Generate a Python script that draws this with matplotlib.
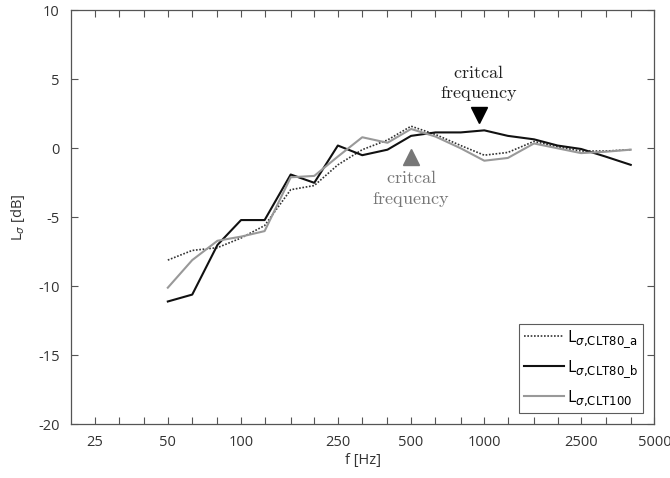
import matplotlib.pyplot as plt
import numpy as np

# third-octave band centre frequencies [Hz]
freqs = [50, 63, 80, 100, 125, 160, 200, 250, 315, 400, 500, 630, 800, 1000,
         1250, 1600, 2000, 2500, 3150, 4000]

clt80_a = [-8.1, -7.4, -7.2, -6.5, -5.6, -3.0, -2.7, -1.2, -0.1, 0.6, 1.6, 1.0,
           0.2, -0.5, -0.3, 0.5, 0.1, -0.2, -0.2, -0.1]
clt80_b = [-11.1, -10.6, -7.0, -5.2, -5.2, -1.9, -2.5, 0.2, -0.5, -0.1, 0.9, 1.15,
           1.15, 1.3, 0.9, 0.65, 0.2, -0.05, -0.6, -1.2]
clt100 = [-10.1, -8.1, -6.7, -6.4, -6.0, -2.1, -2.0, -0.6, 0.8, 0.4, 1.4, 0.85,
          0.0, -0.9, -0.7, 0.35, 0.0, -0.35, -0.25, -0.1]

# critical frequencies (marker position)
fc_80 = (950, 2.4)
fc_100 = (500, -0.65)

band_ticks = [25, 31.5, 40, 50, 63, 80, 100, 125, 160, 200, 250, 315, 400, 500,
              630, 800, 1000, 1250, 1600, 2000, 2500, 3150, 4000, 5000]
labelled = [25, 50, 100, 250, 500, 1000, 2500, 5000]

plt.rcParams['font.family'] = ['Open Sans', 'DejaVu Sans']
plt.rcParams['axes.unicode_minus'] = False
axc = '#555555'

fig = plt.figure(figsize=(6.7, 4.78), dpi=100)
ax = fig.add_axes([0.106, 0.1123, 0.8706, 0.8662])

ax.plot(freqs, clt80_a, color='#333333', ls=(0, (1, 1)), lw=1.2,
        label=r'L$_{\sigma{,}\mathrm{CLT80\_a}}$')
ax.plot(freqs, clt80_b, color='#111111', lw=1.5,
        label=r'L$_{\sigma{,}\mathrm{CLT80\_b}}$')
ax.plot(freqs, clt100, color='#999999', lw=1.5,
        label=r'L$_{\sigma{,}\mathrm{CLT100}}$')

ax.plot(*fc_80, marker='v', color='black', ms=11, ls='none')
ax.plot(*fc_100, marker='^', color='#777777', ms=11, ls='none')
ax.text(fc_80[0], fc_80[1] + 0.85, '$\\mathrm{critcal}$\n$\\mathrm{frequency}$',
        ha='center', va='bottom', fontsize=13, color='#222222',
        math_fontfamily='cm', linespacing=1.2)
ax.text(fc_100[0], fc_100[1] - 0.85, '$\\mathrm{critcal}$\n$\\mathrm{frequency}$',
        ha='center', va='top', fontsize=13, color='#777777',
        math_fontfamily='cm', linespacing=1.2)

ax.set_xscale('log')
ax.set_xlim(20, 5000)
ax.set_ylim(-20, 10)
ax.set_xticks(band_ticks)
ax.set_xticklabels([('%g' % f) if f in labelled else '' for f in band_ticks])
ax.xaxis.set_minor_locator(plt.NullLocator())
ax.set_yticks(np.arange(-20, 11, 5))

ax.tick_params(direction='in', top=True, right=True, length=5, width=0.8,
               color=axc, labelcolor='#333333', labelsize=10.5, pad=8)
for s in ax.spines.values():
    s.set_color(axc)
    s.set_linewidth(0.9)

ax.set_xlabel('f [Hz]', fontsize=10.5, color='#333333', labelpad=2)
ax.set_ylabel(r'L$_{\sigma}$ [dB]', fontsize=10.5, color='#333333', labelpad=8)

leg = ax.legend(loc='lower right', fontsize=12, frameon=True, fancybox=False,
                handlelength=2.4, handletextpad=0.15, borderpad=0.3,
                labelspacing=0.5, borderaxespad=0.7)
leg.get_frame().set_edgecolor('#333333')
leg.get_frame().set_linewidth(0.8)

fig.savefig('out.png', dpi=100)
